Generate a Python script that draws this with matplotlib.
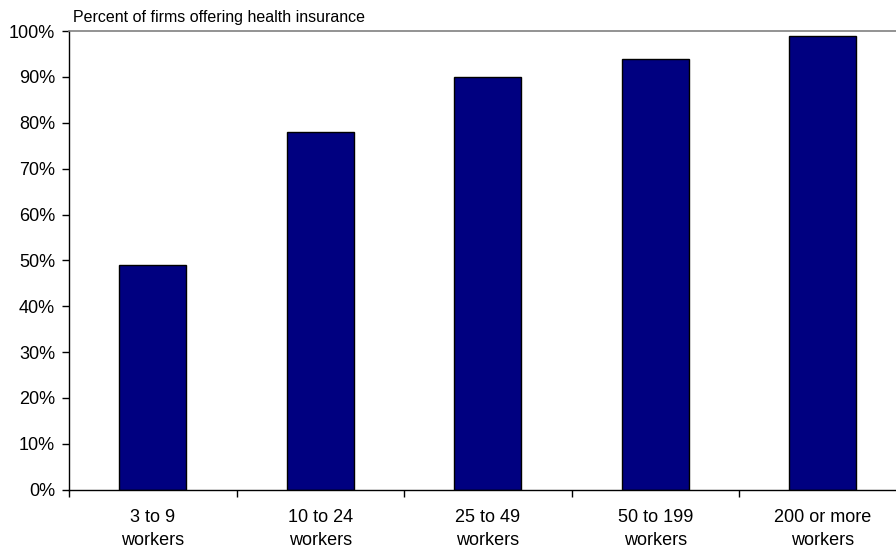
import matplotlib
matplotlib.use('Agg')
import matplotlib.pyplot as plt
import numpy as np
from matplotlib.ticker import FixedLocator, PercentFormatter

plt.rcParams['font.family'] = ['Liberation Sans', 'DejaVu Sans']

# firm size groups and share offering coverage
sizes = ['3 to 9\nworkers', '10 to 24\nworkers', '25 to 49\nworkers',
         '50 to 199\nworkers', '200 or more\nworkers']
pct_offering = [49, 78, 90, 94, 99]
yticks = [0, 10, 20, 30, 40, 50, 60, 70, 80, 90, 100]

fig = plt.figure(figsize=(8.96, 5.54), dpi=100)
ax = fig.add_axes([0.077, 0.116, 0.935, 0.828])

x = np.arange(len(sizes))
ax.bar(x, pct_offering, width=0.4, color='#000080', edgecolor='black', linewidth=1.0)

ax.set_xlim(-0.5, len(sizes) - 0.5)
ax.set_ylim(0, 100)
ax.set_yticks(yticks)
ax.yaxis.set_major_formatter(PercentFormatter(decimals=0))
ax.set_xticks(x)
ax.set_xticklabels(sizes, fontsize=13, linespacing=1.45)
ax.tick_params(axis='x', which='major', length=0, pad=14)
# tick marks between the categories
ax.xaxis.set_minor_locator(FixedLocator(np.arange(-0.5, len(sizes), 1.0)))
ax.tick_params(axis='x', which='minor', length=5, width=1, direction='out')
ax.tick_params(axis='y', length=5, width=1, direction='out', labelsize=13, pad=5)

for side in ['left', 'bottom']:
    ax.spines[side].set_color('black')
    ax.spines[side].set_linewidth(1.0)
ax.spines['top'].set_color('#808080')
ax.spines['top'].set_linewidth(1.2)
ax.spines['right'].set_visible(False)

fig.text(0.081, 0.961, 'Percent of firms offering health insurance', fontsize=11.5,
         ha='left', va='baseline')

fig.savefig('out.png', dpi=100)
